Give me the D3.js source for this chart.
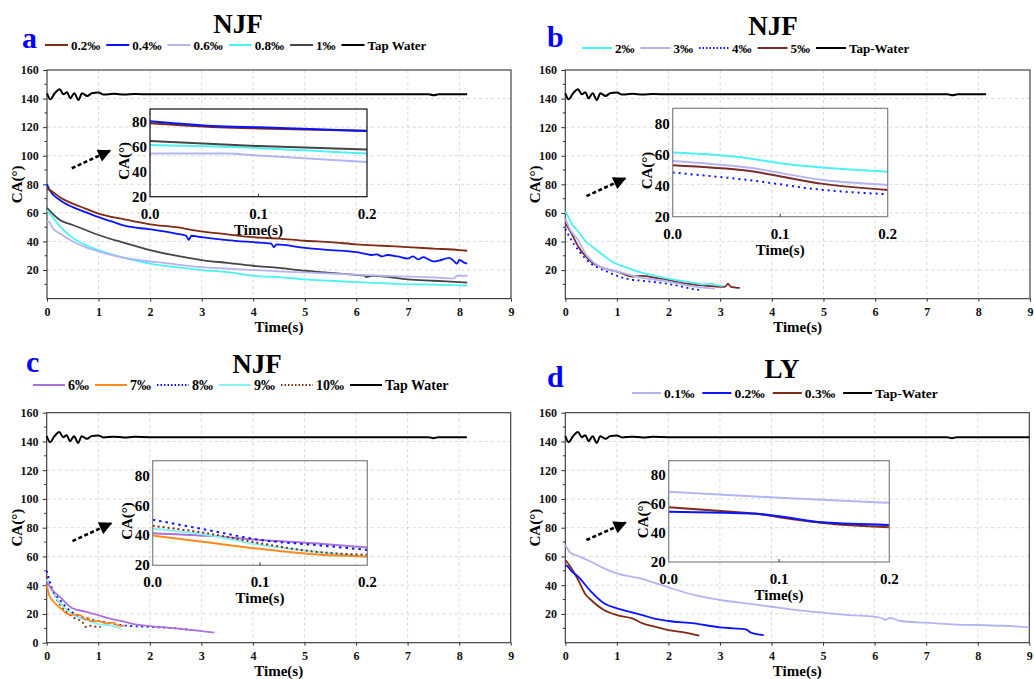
<!DOCTYPE html>
<html>
<head>
<meta charset="utf-8">
<script src="https://cdn.jsdelivr.net/npm/d3@7"></script>
<style>
body { margin: 0; background: #fff; }
text { font-family: "Liberation Serif", "Times New Roman", serif; font-weight: bold; }
</style>
</head>
<body>
<svg id="chart" width="1034" height="679"></svg>
<script>
// ---- data: time (s) and contact angle CA (deg) ----
// tap water (same curve in every panel)
const tapT  = [0, 0.065, 0.15, 0.245, 0.32, 0.39, 0.45, 0.53, 0.61, 0.68, 0.78, 0.87, 1.0, 1.1, 1.3, 1.5, 1.7, 2, 2.5, 3, 4, 5, 6, 7, 7.4, 7.5, 7.6, 8, 8.15];
const tapCA = [143.7, 139.5, 143.7, 146.5, 143, 144.4, 140.2, 143.7, 139, 143.7, 141.8, 143.7, 144.2, 142.8, 143.3, 142.8, 143.2, 143, 143, 143, 143, 143, 143, 143, 143, 142.3, 143, 143, 143];
const tapTLY  = [0, 0.065, 0.15, 0.245, 0.32, 0.39, 0.45, 0.53, 0.61, 0.68, 0.78, 0.87, 1.0, 1.1, 1.3, 1.5, 1.7, 2, 2.5, 3, 4, 5, 6, 7, 7.4, 7.5, 7.6, 8, 9];
const tapCALY = [143.7, 139.5, 143.7, 146.5, 143, 144.4, 140.2, 143.7, 139, 143.7, 141.8, 143.7, 144.2, 142.8, 143.3, 142.8, 143.2, 143, 143, 143, 143, 143, 143, 143, 143, 142.3, 143, 143, 143];

// panel a (NJF, 0.2‰ - 1‰)
const a02T  = [0, 0.1, 0.25, 0.5, 0.75, 1, 1.5, 2, 2.5, 3, 3.5, 4, 4.5, 5, 5.5, 6, 6.5, 7, 7.5, 8, 8.15];
const a02CA = [77, 75, 71, 66.5, 63, 59.5, 55.5, 52, 50, 47, 45, 43, 42, 40.5, 39.5, 38, 37, 36, 35, 34, 33.5];
const a04T  = [0, 0.05, 0.25, 0.5, 0.75, 1, 1.25, 1.5, 2, 2.5, 2.7, 2.75, 2.8, 3, 3.5, 4, 4.35, 4.4, 4.45, 5, 5.5, 6, 6.15, 6.3, 6.4, 6.5, 6.6, 6.8, 7, 7.1, 7.2, 7.3, 7.4, 7.5, 7.6, 7.8, 7.9, 7.95, 8.0, 8.1, 8.15];
const a04CA = [80, 76, 69, 64, 60.5, 57, 54, 51, 48.5, 45.5, 44, 41, 44, 43, 41, 39.5, 38.5, 36, 38, 35.5, 34, 32.5, 31.5, 30.5, 31, 29.5, 30.5, 29.5, 28, 29.5, 27.5, 29, 27.5, 26, 26.5, 28.5, 26, 24.5, 27, 25, 24.5];
const a06T  = [0, 0.05, 0.1, 0.25, 0.5, 0.75, 1, 1.5, 2, 2.5, 3, 3.5, 4, 4.5, 5, 5.5, 6, 6.5, 7, 7.5, 7.9, 7.95, 8.15];
const a06CA = [54, 53.5, 50, 45.5, 40, 36, 33, 28.5, 26, 24, 22, 21, 20, 19, 18.3, 17.5, 16.8, 16, 15.4, 14.8, 14.2, 16, 16];
const a08T  = [0, 0.1, 0.25, 0.5, 0.75, 1, 1.5, 2, 2.5, 3, 3.5, 4, 4.5, 5, 5.5, 6, 6.5, 7, 7.5, 8, 8.15];
const a08CA = [62, 57.5, 50.5, 42.5, 37.5, 34, 28.5, 24.5, 22, 20, 18.5, 16, 15, 13.5, 12.5, 11.5, 10.8, 10, 9.8, 9.3, 9.1];
const a1T   = [0, 0.25, 0.5, 0.75, 1, 1.5, 2, 2.5, 3, 3.5, 4, 4.5, 5, 5.5, 6, 6.15, 6.2, 6.3, 6.5, 7, 7.5, 8, 8.15];
const a1CA  = [63.5, 55, 51.5, 48, 44.5, 39, 34, 30, 27, 25, 23, 21.5, 19.5, 18, 16.6, 16.2, 15, 16, 15.5, 13.5, 12.5, 11.5, 11.2];
// inset a (0 - 0.2 s)
const ia02T = [0, 0.07, 0.1, 0.2], ia02CA = [78.7, 75.2, 74.5, 72.7];
const ia04T = [0, 0.07, 0.1, 0.2], ia04CA = [80.3, 76, 75.4, 72.5];
const ia06T = [0, 0.07, 0.1, 0.2], ia06CA = [54.4, 54.4, 52.8, 47.7];
const ia08T = [0, 0.07, 0.2],      ia08CA = [61.2, 59.8, 54.4];
const ia1T  = [0, 0.1, 0.2],       ia1CA  = [64.4, 60.4, 57.7];

// panel b (NJF, 2‰ - 5‰)
const b2T  = [0, 0.05, 0.1, 0.25, 0.4, 0.5, 0.75, 0.9, 1, 1.25, 1.5, 1.75, 2, 2.25, 2.5, 2.7, 2.8, 3, 3.05];
const b2CA = [61, 58, 54, 47, 40, 37, 30, 26, 24.3, 21, 18, 16, 14, 12.5, 11, 10, 10.5, 9, 9];
const b3T  = [0, 0.1, 0.25, 0.4, 0.5, 0.6, 0.75, 1, 1.5, 2, 2.5, 2.9];
const b3CA = [56, 48, 41, 31, 27, 24, 21, 19, 14.5, 12, 8.5, 7];
const b4T  = [0, 0.1, 0.25, 0.5, 0.75, 1, 1.25, 1.5, 2, 2.25, 2.5, 2.6];
const b4CA = [49, 42, 34, 24.5, 20, 16, 13.5, 12.5, 10.3, 8.5, 6.6, 6.2];
const b5T  = [0, 0.1, 0.25, 0.5, 0.75, 1, 1.3, 1.5, 1.75, 2, 2.25, 2.5, 2.75, 3, 3.1, 3.15, 3.2, 3.3, 3.38];
const b5CA = [53, 47, 36.5, 26, 21.2, 19, 15.5, 16, 14.5, 13, 11, 9.8, 9, 8.3, 8.5, 10.5, 8.5, 7.8, 7.5];
const ib2T = [0, 0.07, 0.1, 0.14, 0.2], ib2CA = [61.4, 57.8, 54.5, 51.7, 49.1];
const ib3T = [0, 0.07, 0.14, 0.2],      ib3CA = [56, 51.7, 43.7, 40.5];
const ib4T = [0, 0.07, 0.14, 0.2],      ib4CA = [48.5, 43.7, 37.3, 34.5];
const ib5T = [0, 0.07, 0.14, 0.2],      ib5CA = [53.2, 49.6, 41.2, 37.3];

// panel c (NJF, 6‰ - 10‰)
const c6T   = [0, 0.1, 0.25, 0.5, 0.75, 1, 1.25, 1.5, 1.75, 2, 2.5, 3, 3.25];
const c6CA  = [42, 37, 32, 24, 21.6, 19.2, 16.5, 14.6, 12.5, 11.6, 10, 8, 7];
const c7T   = [0, 0.05, 0.1, 0.2, 0.3, 0.4, 0.5, 0.6, 0.7, 0.75, 0.8, 0.85, 1.0, 1.1, 1.2, 1.3, 1.35, 1.4, 1.45, 1.5];
const c7CA  = [40, 33, 30, 26, 23, 20, 19.5, 19.5, 18, 16, 17.5, 15, 15, 14, 13.5, 14, 12.5, 12, 11.5, 12];
const c8T   = [0, 0.05, 0.1, 0.25, 0.5, 0.75, 1, 1.25, 1.5, 2, 2.5, 2.9];
const c8CA  = [50, 44, 38, 30, 21, 17, 15, 13.5, 12, 11, 10, 8.5];
const c9T   = [0, 0.1, 0.25, 0.5, 0.75, 1, 1.25, 1.45];
const c9CA  = [44, 36, 28, 20, 16, 13, 12, 9.5];
const c10T  = [0, 0.1, 0.25, 0.5, 0.7, 0.75, 0.8, 1.0, 1.05];
const c10CA = [46, 37, 27, 18, 14, 11, 12, 11, 11];
const icT   = [0, 0.05, 0.1, 0.15, 0.2];
const ic6CA = [41.5, 39.7, 37, 34.8, 31.9];
const ic7CA = [39.9, 35.4, 31, 27.4, 25.8];
const ic8CA = [50.5, 43.8, 37, 33.7, 30.3];
const ic9CA = [44.4, 40.4, 33.7, 29.2, 25.8];
const ic10CA = [46.4, 41.5, 34.8, 29.2, 27];

// panel d (LY, 0.1‰ - 0.3‰)
const d01T  = [0, 0.1, 0.25, 0.5, 0.75, 1, 1.5, 2, 2.5, 3, 3.5, 4, 4.5, 5, 5.5, 6, 6.15, 6.2, 6.3, 6.5, 7, 7.5, 8, 8.5, 9];
const d01CA = [68, 62.6, 60.3, 56.3, 51.7, 48.2, 44.3, 38.5, 33.2, 29.7, 27.4, 25, 22.7, 20.9, 19.2, 18.1, 17, 15.8, 17.2, 15.1, 13.9, 12.8, 12.3, 11.8, 10.7];
const d02T  = [0, 0.05, 0.1, 0.25, 0.5, 0.75, 1, 1.25, 1.5, 1.75, 2, 2.5, 3, 3.25, 3.5, 3.6, 3.85];
const d02CA = [54, 53, 50.6, 45.9, 35.5, 27.4, 23.9, 21.5, 19.2, 16.5, 15.1, 13.4, 10.7, 10, 9.3, 7, 5.3];
const d03T  = [0, 0.1, 0.25, 0.4, 0.5, 0.75, 1, 1.3, 1.5, 1.75, 2, 2.3, 2.6];
const d03CA = [57.5, 52.9, 43.6, 33.2, 29.7, 22.7, 19.2, 16.9, 13.4, 11, 8.8, 7.2, 4.9];
const id01T = [0, 0.1, 0.2],                     id01CA = [68.6, 64.4, 60.9];
const id02T = [0, 0.05, 0.08, 0.1, 0.14, 0.2],   id02CA = [54.7, 54, 53.3, 51.6, 47.4, 45.6];
const id03T = [0, 0.05, 0.08, 0.1, 0.14, 0.2],   id03CA = [57.9, 55.1, 53.3, 51, 47, 44];

const xTicks = [0, 1, 2, 3, 4, 5, 6, 7, 8, 9];
const yTicksNoZero = [20, 40, 60, 80, 100, 120, 140, 160];
const yTicksZero = [0, 20, 40, 60, 80, 100, 120, 140, 160];
const insetXTicks = [0, 0.1, 0.2];
const insetYTicks = [20, 40, 60, 80];

// ---- colours ----
const cBrown = '#7f2a14', cBlue = '#0a14ff', cLav = '#b4b4f2', cCyan = '#4cf2f2', cGray = '#454545';
const cMaroon = '#7a2c2c', cPurple = '#a874dc', cOrange = '#ff8a1e', cCyan2 = '#86f4f4';

const svg = d3.select('#chart');

function ser(name, t, ca, color, dash) {
    return { name, pts: t.map((v, i) => [v, ca[i]]), color, dash: dash || null };
}

const panels = [
    {
        letter: 'a', title: 'NJF', titleX: 238, titleY: 33, letterX: 22, letterY: 48,
        left: 47, right: 511, top: 70, bottom: 298.6, yTicks: yTicksNoZero,
        leg: { x: 45, y: 45, len: 23, size: 13, gap: 6 },
        series: [
            ser('0.2‰', a02T, a02CA, cBrown), ser('0.4‰', a04T, a04CA, cBlue),
            ser('0.6‰', a06T, a06CA, cLav), ser('0.8‰', a08T, a08CA, cCyan),
            ser('1‰', a1T, a1CA, cGray), ser('Tap Water', tapT, tapCA, '#000')
        ],
        inset: { left: 150, right: 367, top: 109, bottom: 196.7, border: '#111',
            series: [ser('', ia06T, ia06CA, cLav), ser('', ia08T, ia08CA, cCyan), ser('', ia1T, ia1CA, cGray),
                     ser('', ia02T, ia02CA, cBrown), ser('', ia04T, ia04CA, cBlue)] },
        arrow: [[0.48, 91.2], [1.22, 103.5]]
    },
    {
        letter: 'b', title: 'NJF', titleX: 773, titleY: 35, letterX: 547, letterY: 47,
        left: 565.3, right: 1030, top: 70, bottom: 298.7, yTicks: yTicksNoZero,
        leg: { x: 582, y: 48, len: 30, size: 13, gap: 6 },
        series: [
            ser('2‰', b2T, b2CA, cCyan), ser('3‰', b3T, b3CA, cLav),
            ser('4‰', b4T, b4CA, cBlue, '2,3.5'), ser('5‰', b5T, b5CA, cMaroon),
            ser('Tap-Water', tapT, tapCA, '#000')
        ],
        inset: { left: 672.7, right: 887.7, top: 108.3, bottom: 216.7, border: '#808080',
            series: [ser('', ib2T, ib2CA, cCyan), ser('', ib3T, ib3CA, cLav),
                     ser('', ib4T, ib4CA, cBlue, '2,4'), ser('', ib5T, ib5CA, cMaroon)] },
        arrow: [[0.41, 71.8], [1.16, 84.2]]
    },
    {
        letter: 'c', title: 'NJF', titleX: 257, titleY: 373, letterX: 26, letterY: 372,
        left: 46.7, right: 510.7, top: 412.7, bottom: 642.7, yTicks: yTicksZero,
        leg: { x: 33, y: 385, len: 32, size: 14, gap: 6 },
        series: [
            ser('6‰', c6T, c6CA, cPurple), ser('7‰', c7T, c7CA, cOrange),
            ser('8‰', c8T, c8CA, cBlue, '2,3.5'), ser('9‰', c9T, c9CA, cCyan2),
            ser('10‰', c10T, c10CA, '#8b2a14', '2,3'), ser('Tap Water', tapT, tapCA, '#000')
        ],
        inset: { left: 152.7, right: 367.3, top: 460.7, bottom: 565.3, border: '#808080',
            series: [ser('', icT, ic6CA, cPurple), ser('', icT, ic9CA, cCyan2), ser('', icT, ic7CA, cOrange),
                     ser('', icT, ic10CA, '#8b2a14', '2,3'), ser('', icT, ic8CA, cBlue, '2.5,4')] },
        arrow: [[0.5, 70.7], [1.25, 83]]
    },
    {
        letter: 'd', title: 'LY', titleX: 782, titleY: 378, letterX: 547, letterY: 387,
        left: 565.3, right: 1029.3, top: 412.7, bottom: 642.7, yTicks: yTicksNoZero,
        leg: { x: 632, y: 393, len: 29, size: 13.5, gap: 8 },
        series: [
            ser('0.1‰', d01T, d01CA, cLav), ser('0.2‰', d02T, d02CA, cBlue),
            ser('0.3‰', d03T, d03CA, cBrown), ser('Tap-Water', tapTLY, tapCALY, '#000')
        ],
        inset: { left: 668.7, right: 889.3, top: 460.7, bottom: 562, border: '#808080',
            series: [ser('', id01T, id01CA, cLav), ser('', id03T, id03CA, cBrown), ser('', id02T, id02CA, cBlue)] },
        arrow: [[0.41, 71.4], [1.17, 83.5]]
    }
];

// arrow head marker
svg.append('defs').append('marker')
    .attr('id', 'head')
    .attr('viewBox', '0 0 10 10')
    .attr('refX', 9).attr('refY', 5)
    .attr('markerWidth', 6).attr('markerHeight', 5)
    .attr('markerUnits', 'strokeWidth')
    .attr('orient', 'auto')
    .append('path').attr('d', 'M0,0 L10,5 L0,10 z').attr('fill', '#000');

function drawPanel(p) {
    const g = svg.append('g');
    const x = d3.scaleLinear().domain([0, 9]).range([p.left, p.right]);
    const y = d3.scaleLinear().domain([0, 160]).range([p.bottom, p.top]);

    // grid
    g.append('g').selectAll('line').data(xTicks.slice(1, -1)).enter().append('line')
        .attr('x1', d => x(d)).attr('x2', d => x(d)).attr('y1', p.top).attr('y2', p.bottom)
        .attr('stroke', '#cfcfcf').attr('stroke-dasharray', '3,3').attr('stroke-width', 0.8);
    g.append('g').selectAll('line').data([20, 40, 60, 80, 100, 120, 140]).enter().append('line')
        .attr('x1', p.left).attr('x2', p.right).attr('y1', d => y(d)).attr('y2', d => y(d))
        .attr('stroke', '#cfcfcf').attr('stroke-dasharray', '3,3').attr('stroke-width', 0.8);

    // axes
    const ax = g.append('g').attr('transform', `translate(0,${p.bottom})`)
        .call(d3.axisBottom(x).tickValues(xTicks).tickSize(3).tickSizeOuter(0).tickFormat(d3.format('d')));
    const ay = g.append('g').attr('transform', `translate(${p.left},0)`)
        .call(d3.axisLeft(y).tickValues(p.yTicks).tickSize(4).tickSizeOuter(0).tickFormat(d3.format('d')));
    [ax, ay].forEach(a => {
        a.select('.domain').remove();
        a.selectAll('text').attr('font-size', 12).attr('font-family', '"Liberation Serif", serif')
            .attr('font-weight', 'bold').attr('fill', '#111');
        a.selectAll('line').attr('stroke', '#333');
    });
    ax.selectAll('text').attr('dy', '0.95em');
    ay.selectAll('text').attr('dx', '-0.1em');
    // minor y ticks
    g.append('g').selectAll('line').data([10, 30, 50, 70, 90, 110, 130, 150]).enter().append('line')
        .attr('x1', p.left - 2.5).attr('x2', p.left).attr('y1', d => y(d)).attr('y2', d => y(d))
        .attr('stroke', '#333');

    // frame
    g.append('rect').attr('x', p.left).attr('y', p.top)
        .attr('width', p.right - p.left).attr('height', p.bottom - p.top)
        .attr('fill', 'none').attr('stroke', '#333').attr('stroke-width', 1.1);

    // axis titles
    g.append('text').attr('x', (p.left + p.right) / 2).attr('y', p.bottom + 33)
        .attr('text-anchor', 'middle').attr('font-size', 15).text('Time(s)');
    g.append('text').attr('transform', `translate(${p.left - 25},${(p.top + p.bottom) / 2}) rotate(-90)`)
        .attr('text-anchor', 'middle').attr('font-size', 15).text('CA(°)');

    // curves
    const line = d3.line().x(d => x(d[0])).y(d => y(d[1])).curve(d3.curveMonotoneX);
    const order = p.series.slice().reverse();
    g.append('g').selectAll('path').data(order).enter().append('path')
        .attr('d', d => line(d.pts))
        .attr('fill', 'none')
        .attr('stroke', d => d.color)
        .attr('stroke-width', d => d.color === '#000' ? 2 : 1.8)
        .attr('stroke-dasharray', d => d.dash);

    // arrow
    g.append('line')
        .attr('x1', x(p.arrow[0][0])).attr('y1', y(p.arrow[0][1]))
        .attr('x2', x(p.arrow[1][0])).attr('y2', y(p.arrow[1][1]))
        .attr('stroke', '#000').attr('stroke-width', 2.6)
        .attr('stroke-dasharray', '4,2.5')
        .attr('marker-end', 'url(#head)');

    // inset
    const s = p.inset;
    const ix = d3.scaleLinear().domain([0, 0.2]).range([s.left, s.right]);
    const iy = d3.scaleLinear().domain([20, 90]).range([s.bottom, s.top]);
    const ig = g.append('g');
    const iline = d3.line().x(d => ix(d[0])).y(d => iy(d[1])).curve(d3.curveMonotoneX);
    ig.append('g').selectAll('path').data(s.series).enter().append('path')
        .attr('d', d => iline(d.pts))
        .attr('fill', 'none')
        .attr('stroke', d => d.color)
        .attr('stroke-width', 2)
        .attr('stroke-dasharray', d => d.dash);
    ig.append('rect').attr('x', s.left).attr('y', s.top)
        .attr('width', s.right - s.left).attr('height', s.bottom - s.top)
        .attr('fill', 'none').attr('stroke', s.border).attr('stroke-width', 1.2);
    ig.append('line').attr('x1', ix(0.1)).attr('x2', ix(0.1))
        .attr('y1', s.bottom).attr('y2', s.bottom - 3).attr('stroke', '#333');
    ig.append('g').selectAll('text').data(insetYTicks).enter().append('text')
        .attr('x', s.left - 3).attr('y', d => iy(d) + 5)
        .attr('text-anchor', 'end').attr('font-size', 15).text(d => d);
    ig.append('g').selectAll('text').data(insetXTicks).enter().append('text')
        .attr('x', d => ix(d)).attr('y', s.bottom + 22)
        .attr('text-anchor', 'middle').attr('font-size', 15).text(d => d3.format('.1f')(d));
    ig.append('text').attr('x', (s.left + s.right) / 2).attr('y', s.bottom + 38)
        .attr('text-anchor', 'middle').attr('font-size', 15).text('Time(s)');
    ig.append('text').attr('transform', `translate(${s.left - 21},${(s.top + s.bottom) / 2 + 8}) rotate(-90)`)
        .attr('text-anchor', 'middle').attr('font-size', 15).text('CA(°)');

    // title, panel letter
    g.append('text').attr('x', p.titleX).attr('y', p.titleY).attr('text-anchor', 'middle')
        .attr('font-size', 27).text(p.title);
    g.append('text').attr('x', p.letterX).attr('y', p.letterY)
        .attr('font-size', 30).attr('fill', '#0000ff').text(p.letter);

    // legend
    let cx = p.leg.x;
    p.series.forEach(d => {
        g.append('line').attr('x1', cx).attr('x2', cx + p.leg.len)
            .attr('y1', p.leg.y).attr('y2', p.leg.y)
            .attr('stroke', d.color).attr('stroke-width', 2)
            .attr('stroke-dasharray', d.dash ? '1.5,2' : null);
        cx += p.leg.len + 3;
        const t = g.append('text').attr('x', cx).attr('y', p.leg.y + 4.5)
            .attr('font-size', p.leg.size).text(d.name);
        cx += t.node().getComputedTextLength() + p.leg.gap;
    });
}

panels.forEach(drawPanel);
</script>
</body>
</html>
